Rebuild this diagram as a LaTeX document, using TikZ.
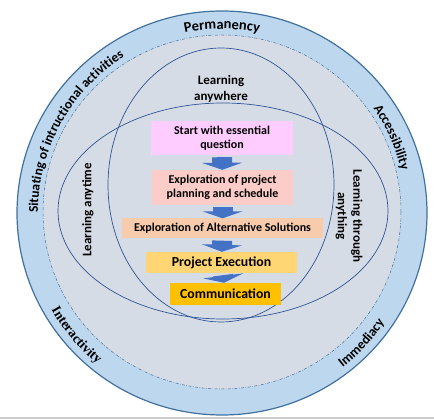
\documentclass[tikz,border=0pt]{standalone}
\usepackage{fontspec}
\setmainfont{Carlito}
\newfontfamily\timesfont{Liberation Serif}
\usetikzlibrary{arrows.meta, decorations.text}
\definecolor{ringblue}{HTML}{BDD7EE}
\definecolor{coregray}{HTML}{D6DCE5}
\definecolor{edgeblue}{HTML}{41719C}
\definecolor{lineblue}{HTML}{2F5597}
\definecolor{arrowblue}{HTML}{4472C4}
\definecolor{boxpink}{HTML}{FFCCFF}
\definecolor{boxrose}{HTML}{FCCCC8}
\definecolor{boxpeach}{HTML}{F8CBAD}
\definecolor{boxgold}{HTML}{FFD673}
\definecolor{boxamber}{HTML}{FFC000}
\newcommand{\ringfont}{\bfseries\fontsize{13.5}{15}\selectfont}

\begin{document}
\begin{tikzpicture}[x=1pt, y=1pt,
    stepbox/.style={inner sep=0pt, align=center, font=\bfseries\fontsize{12}{14.5}\selectfont},
    flow/.style={arrowblue, line width=20pt, shorten <=2pt, -{Triangle[width=40pt, length=7pt]}},
    learnlabel/.style={align=center, font=\bfseries\fontsize{13}{15.5}\selectfont},
    ringlabel/.style={decorate, decoration={text along path, text align=center, text={#1}}},
]
    \useasboundingbox (0,0) rectangle (434,420);
    \fill[white] (0,0) rectangle (434,420);
    \draw[black!20, line width=1.5pt] (0,2) -- (434,2);

    % Outer ring and inner core
    \filldraw[fill=ringblue, draw=edgeblue, line width=1.2pt] (222,207) ellipse [x radius=205, y radius=202];
    \filldraw[fill=coregray, draw=edgeblue, line width=0.5pt, dash pattern=on 3pt off 1.5pt on 0.6pt off 1.5pt] (222,208) ellipse [x radius=179, y radius=177];

    % Learning ellipses
    \draw[lineblue, line width=0.7pt] (221,235) ellipse [x radius=113, y radius=137];
    \draw[lineblue, line width=0.7pt] (223,209) ellipse [x radius=165, y radius=108];

    % Ring labels
    \path[ringlabel={|\bfseries\fontsize{14.5}{17}\selectfont|Permanency}] (222,207) ++(115:184) arc[start angle=115, end angle=65, radius=184];
    \path[ringlabel={|\ringfont|Accessibility}] (222,207) ++(46:184) arc[start angle=46, end angle=2, radius=184];
    \path[ringlabel={|\ringfont|Situating of intructional activities}] (222,207) ++(197:184) arc[start angle=197, end angle=105, radius=184];
    \path[ringlabel={|\timesfont\bfseries\fontsize{13.5}{15}\selectfont|Interactivity}] (222,207) ++(196:196) arc[start angle=196, end angle=244, radius=196];
    \path[ringlabel={|\ringfont|Immediacy}] (222,207) ++(293:196) arc[start angle=293, end angle=341, radius=196];

    % Learning labels
    \node[learnlabel] (anywhere) at (221,331) {Learning\\anywhere};
    \node[learnlabel, rotate=90] (anytime) at (88,210) {Learning anytime};
    \node[learnlabel, rotate=-90] (anything) at (349,204) {Learning through\\anything};

    % Project steps
    \node[stepbox, fill=boxpink, minimum width=142, minimum height=34] (start) at (222,282) {Start with essential\\question};
    \node[stepbox, fill=boxrose, minimum width=141, minimum height=35] (plan) at (222.5,232.5) {Exploration of project\\planning and schedule};
    \node[stepbox, fill=boxpeach, minimum width=201, minimum height=20] (altsol) at (222.5,191.5) {Exploration of Alternative Solutions};
    \node[stepbox, fill=boxgold, minimum width=151, minimum height=21, font=\bfseries\fontsize{13.8}{16}\selectfont] (execution) at (221.5,157.5) {Project Execution};
    \node[stepbox, fill=boxamber, minimum width=111, minimum height=22, font=\bfseries\fontsize{13.8}{16}\selectfont] (comm) at (225.5,126) {Communication};

    \draw[flow] (start) -- (plan);
    \draw[flow] (plan) -- (altsol);
    \draw[flow] (altsol) -- (execution);
    \draw[flow] (execution) -- (comm);
\end{tikzpicture}
\end{document}
